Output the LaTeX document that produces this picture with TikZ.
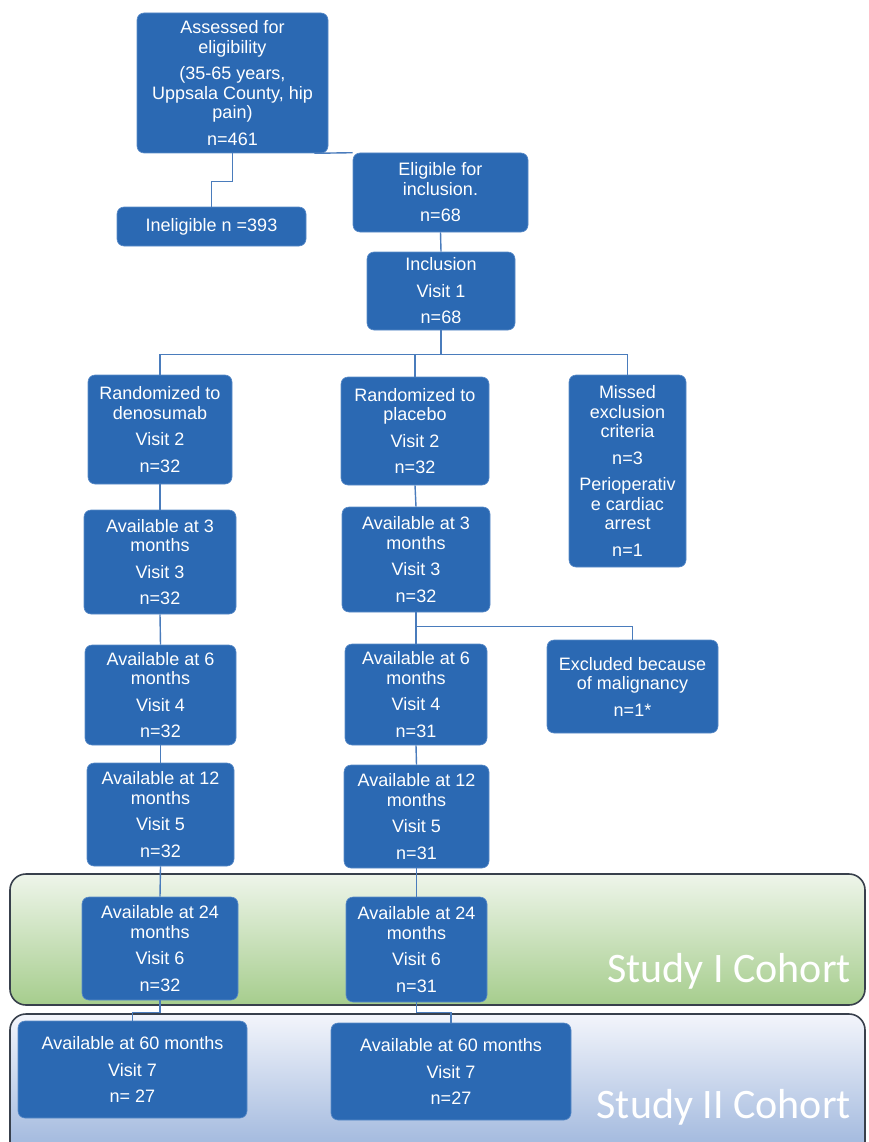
\documentclass[tikz,border=0pt]{standalone}
\usepackage{fontspec}
\setmainfont{Liberation Sans}
\newfontfamily\calfont{Carlito}
\definecolor{boxblue}{HTML}{2B69B3}
\definecolor{boxedge}{HTML}{5A8BC8}
\definecolor{linkblue}{HTML}{4A7CBC}
\definecolor{banddark}{HTML}{38404C}
\definecolor{greentop}{HTML}{EEF5EA}
\definecolor{greenmid}{HTML}{C2DEB0}
\definecolor{greenbot}{HTML}{A6CD8D}
\definecolor{bluetop}{HTML}{F3F5FB}
\definecolor{bluemid}{HTML}{C9D6EC}
\definecolor{bluebot}{HTML}{9AB3DB}
\tikzset{
  box/.style={fill=boxblue, draw=boxedge, line width=0.6pt, rounded corners=7pt,
    text=white, align=center, inner sep=2pt, font=\fontsize{18}{19.5}\selectfont},
  link/.style={draw=linkblue, line width=1.4pt},
  band/.style={draw=banddark, line width=1.6pt, rounded corners=16pt},
  bandlabel/.style={text=white, font=\calfont\fontsize{42}{44}\selectfont, anchor=base east, inner sep=0pt}
}
\begin{document}
\begin{tikzpicture}[x=1pt,y=-1pt]
\useasboundingbox (0,0) rectangle (869,1142);
\fill[white] (0,0) rectangle (869,1142);
% cohort bands
\draw[band, top color=greentop, middle color=greenmid, bottom color=greenbot] (10,874) rectangle (865,1005);
\draw[band, top color=bluetop, middle color=bluemid, bottom color=bluebot] (10,1014) rectangle (865,1160);
\node[bandlabel] (s1) at (851,982) {Study I Cohort};
\node[bandlabel] (s2) at (851,1118) {Study II Cohort};
% boxes
\node[box, minimum width=191pt, minimum height=140pt] (A) at (232.5,83)
  {Assessed for\\eligibility\\[7pt](35-65 years,\\Uppsala County, hip\\pain)\\[7pt]n=461};
\node[box, minimum width=189pt, minimum height=39pt] (I) at (211.5,226.5) {Ineligible n =393};
\node[box, minimum width=175pt, minimum height=79pt] (E) at (440.5,192.5)
  {Eligible for\\inclusion.\\[7pt]n=68};
\node[box, minimum width=148pt, minimum height=78pt] (Inc) at (441,291)
  {Inclusion\\[7pt]Visit 1\\[7pt]n=68};
\node[box, minimum width=144pt, minimum height=109pt] (D) at (160,429.5)
  {Randomized to\\denosumab\\[7pt]Visit 2\\[7pt]n=32};
\node[box, minimum width=148pt, minimum height=108pt] (P) at (415,431)
  {Randomized to\\placebo\\[7pt]Visit 2\\[7pt]n=32};
\node[box, minimum width=117pt, minimum height=192pt] (M) at (627.5,471)
  {Missed\\exclusion\\criteria\\[7pt]n=3\\[7pt]Perioperativ\\e cardiac\\arrest\\[7pt]n=1};
\node[box, minimum width=152pt, minimum height=104pt] (L3) at (160,562)
  {Available at 3\\months\\[7pt]Visit 3\\[7pt]n=32};
\node[box, minimum width=148pt, minimum height=105pt] (R3) at (416,559.5)
  {Available at 3\\months\\[7pt]Visit 3\\[7pt]n=32};
\node[box, minimum width=151pt, minimum height=100pt] (L6) at (160.5,695)
  {Available at 6\\months\\[7pt]Visit 4\\[7pt]n=32};
\node[box, minimum width=142pt, minimum height=101pt] (R6) at (416,694.5)
  {Available at 6\\months\\[7pt]Visit 4\\[7pt]n=31};
\node[box, minimum width=171pt, minimum height=93pt] (X) at (632.5,686.5)
  {Excluded because\\of malignancy\\[7pt]n=1*};
\node[box, minimum width=147pt, minimum height=103pt] (L12) at (160.5,814.5)
  {Available at 12\\months\\[7pt]Visit 5\\[7pt]n=32};
\node[box, minimum width=145pt, minimum height=103pt] (R12) at (416.5,816.5)
  {Available at 12\\months\\[7pt]Visit 5\\[7pt]n=31};
\node[box, minimum width=156pt, minimum height=103pt] (L24) at (160,948.5)
  {Available at 24\\months\\[7pt]Visit 6\\[7pt]n=32};
\node[box, minimum width=141pt, minimum height=105pt] (R24) at (416.5,949.5)
  {Available at 24\\months\\[7pt]Visit 6\\[7pt]n=31};
\node[box, minimum width=229pt, minimum height=97pt] (L60) at (132.5,1069.5)
  {Available at 60 months\\[7pt]Visit 7\\[7pt]n= 27};
\node[box, minimum width=240pt, minimum height=97pt] (R60) at (451,1071.5)
  {Available at 60 months\\[7pt]Visit 7\\[7pt]n=27};
% connectors
\draw[link] (A.south) -- ++(0,28) -| (I.north);
\draw[link] ([xshift=-14pt]A.south east) -- (E.north west);
\draw[link] (E.south) -- (Inc.north);
\draw[link] (Inc.south) -- ++(0,24) coordinate (br1);
\draw[link] (D.north) |- (br1) -| (M.north);
\draw[link] (P.north) -- (P.north |- br1);
\draw[link] (D.south) -- (L3.north);
\draw[link] (P.south) -- (R3.north);
\draw[link] (L3.south) -- (L6.north);
\draw[link] (R3.south) -- (R6.north);
\draw[link] (R3.south) -- ++(0,14) -| (X.north);
\draw[link] (L6.south) -- (L12.north);
\draw[link] (R6.south) -- (R12.north);
\draw[link] (L12.south) -- (L24.north);
\draw[link] (R12.south) -- (R24.north);
\draw[link] (L24.south) -- ++(0,12) -| (L60.north);
\draw[link] (R24.south) -- ++(0,10) -| (R60.north);
\end{tikzpicture}
\end{document}
